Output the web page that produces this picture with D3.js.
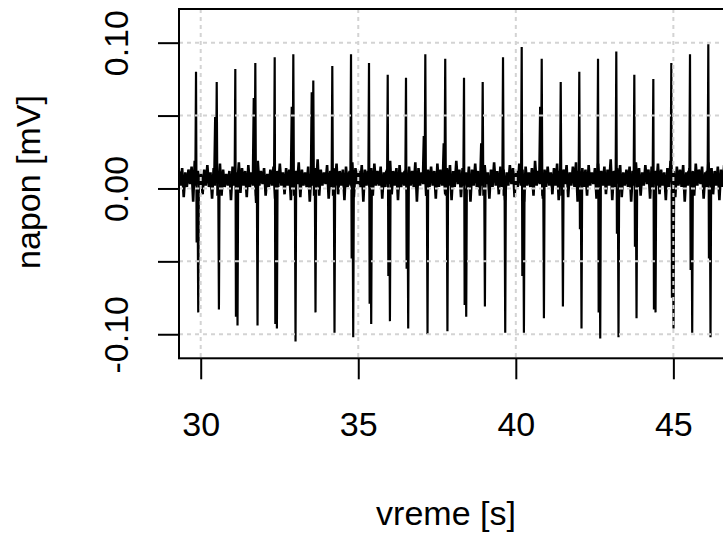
<!DOCTYPE html>
<html>
<head>
<meta charset="utf-8">
<script src="https://cdn.jsdelivr.net/npm/d3@7"></script>
<style>
  html, body { margin: 0; padding: 0; background: #ffffff; overflow: hidden; }
  svg { display: block; }
  text { font-family: "Liberation Sans", Arial, sans-serif; fill: #000; }
</style>
</head>
<body>
<script>
// ---------------- data ----------------
const xTicks = [30, 35, 40, 45];
const yTicks = [-0.10, -0.05, 0.00, 0.05, 0.10];
const yTickLabels = ["-0.10", "", "0.00", "", "0.10"];
const xLabel = "vreme [s]";
const yLabel = "napon [mV]";

// baseline noise envelope, sampled every 0.1 s starting at 29.311 s
const noiseStart = 29.311;
const noiseStep = 0.1;
const noiseHigh = [
  0.012,0.014,0.011,0.013,0.015,0.019,0.012,0.010,0.013,0.016,
  0.011,0.014,0.012,0.017,0.013,0.010,0.012,0.015,0.011,0.018,
  0.014,0.012,0.016,0.011,0.013,0.019,0.012,0.014,0.010,0.013,
  0.015,0.012,0.017,0.011,0.014,0.013,0.016,0.012,0.018,0.013,
  0.011,0.015,0.012,0.014,0.020,0.013,0.011,0.016,0.012,0.014,
  0.017,0.012,0.013,0.015,0.011,0.018,0.014,0.012,0.016,0.013,
  0.010,0.014,0.017,0.012,0.015,0.011,0.013,0.019,0.012,0.014,
  0.016,0.011,0.013,0.015,0.012,0.018,0.014,0.011,0.016,0.013,
  0.015,0.012,0.017,0.013,0.011,0.014,0.016,0.012,0.019,0.013,
  0.014,0.011,0.015,0.013,0.017,0.012,0.014,0.016,0.011,0.013,
  0.018,0.012,0.015,0.013,0.011,0.016,0.014,0.012,0.017,0.013,
  0.015,0.011,0.014,0.019,0.012,0.016,0.013,0.015,0.011,0.014,
  0.017,0.012,0.013,0.016,0.011,0.015,0.018,0.012,0.014,0.013,
  0.016,0.011,0.014,0.017,0.012,0.015,0.013,0.020,0.012,0.014,
  0.016,0.011,0.013,0.015,0.012,0.018,0.014,0.011,0.016,0.013,
  0.015,0.012,0.017,0.013,0.011,0.014,0.019,0.012,0.015,0.013,
  0.016,0.011,0.014,0.012,0.017,0.013,0.015,0.011,0.018,0.014,
  0.012,0.015,0.013,0.016,0.012
];
const noiseLow = [
  0.002,-0.006,0.001,0.003,-0.009,0.002,0.001,-0.004,0.002,0.001,
  -0.007,0.002,0.003,-0.005,0.001,0.002,-0.008,0.002,0.001,-0.003,
  0.002,-0.006,0.001,0.002,-0.010,0.002,0.003,-0.005,0.001,0.002,
  -0.007,0.001,0.002,-0.004,0.002,-0.008,0.001,0.003,-0.006,0.002,
  0.001,-0.009,0.002,0.001,-0.005,0.002,0.003,-0.007,0.001,0.002,
  -0.004,0.002,-0.008,0.001,0.002,-0.006,0.003,0.001,-0.009,0.002,
  0.001,-0.005,0.002,0.002,-0.007,0.001,0.003,-0.004,0.002,-0.008,
  0.001,0.002,-0.006,0.002,0.001,-0.009,0.002,0.003,-0.005,0.001,
  0.002,-0.007,0.001,0.002,-0.004,0.002,-0.008,0.001,0.003,-0.006,
  0.002,0.001,-0.009,0.002,0.001,-0.005,0.002,0.003,-0.007,0.001,
  0.002,-0.004,0.001,-0.008,0.002,0.003,-0.006,0.001,0.002,-0.009,
  0.002,0.001,-0.005,0.002,0.003,-0.007,0.001,0.002,-0.004,0.002,
  -0.008,0.001,0.003,-0.006,0.002,0.001,-0.009,0.002,0.001,-0.005,
  0.002,0.003,-0.007,0.001,0.002,-0.004,0.002,-0.008,0.001,0.003,
  -0.006,0.002,0.001,-0.009,0.002,0.001,-0.005,0.002,0.003,-0.007,
  0.001,0.002,-0.004,0.002,-0.008,0.001,0.003,-0.006,0.002,0.001,
  -0.009,0.002,0.001,-0.005,0.002,0.003,-0.007,0.001,0.002,-0.004,
  0.002,-0.008,0.001,0.003,-0.006
];

// spikes (QRS-like deflections)
const spikeTime = [29.851,30.508,31.098,31.733,32.348,32.939,33.573,34.176,34.770,35.341,
                   35.935,36.515,37.128,37.760,38.356,38.949,39.594,40.187,40.822,41.425,
                   42.015,42.609,43.189,43.761,44.364,44.935,45.528,46.109];
const spikeHigh = [0.080,0.073,0.082,0.086,0.090,0.092,0.074,0.084,0.092,0.086,
                   0.078,0.076,0.092,0.089,0.076,0.073,0.090,0.097,0.089,0.073,
                   0.080,0.089,0.094,0.078,0.075,0.086,0.092,0.099];
const spikeLow  = [-0.085,-0.083,-0.094,-0.094,-0.096,-0.105,-0.085,-0.099,-0.102,-0.093,
                   -0.091,-0.096,-0.100,-0.098,-0.088,-0.081,-0.099,-0.099,-0.089,-0.081,
                   -0.096,-0.103,-0.102,-0.089,-0.085,-0.096,-0.099,-0.102];
const spikeHighShoulder = [0.012,0.049,0.012,0.062,0.012,0.056,0.066,0.012,0.012,0.012,
                           0.012,0.012,0.036,0.031,0.012,0.031,0.012,0.012,0.056,0.012,
                           0.012,0.012,0.012,0.012,0.012,0.012,0.012,0.012];
const spikeLowShoulder  = [-0.037,-0.005,-0.088,-0.005,-0.093,-0.005,-0.005,-0.005,-0.048,-0.079,
                           -0.060,-0.055,-0.005,-0.005,-0.080,-0.005,-0.005,-0.060,-0.005,-0.005,
                           -0.028,-0.085,-0.031,-0.040,-0.083,-0.075,-0.056,-0.048];

// ---------------- layout ----------------
const W = 723, H = 535;
const box = { left: 179, top: 9, right: 786.8, bottom: 358.3 };

const svg = d3.select("body").append("svg").attr("width", W).attr("height", H);

const x = d3.scaleLinear().domain([29.311, 48.6]).range([box.left, box.right]);
const y = d3.scaleLinear().domain([-0.1165, 0.1231]).range([box.bottom, box.top]);

svg.append("defs").append("clipPath").attr("id", "plotclip")
  .append("rect")
  .attr("x", box.left).attr("y", box.top)
  .attr("width", box.right - box.left).attr("height", box.bottom - box.top);

const line = d3.line().x(d => x(d[0])).y(d => y(d[1]));
const plot = svg.append("g").attr("clip-path", "url(#plotclip)");

// noise band
const noisePts = [];
noiseHigh.forEach((v, i) => {
  const t = noiseStart + i * noiseStep;
  noisePts.push([t, v]);
  noisePts.push([t + noiseStep / 2, noiseLow[i]]);
});
plot.append("path").datum(noisePts)
  .attr("d", line).attr("fill", "none")
  .attr("stroke", "#000").attr("stroke-width", 2.6).attr("stroke-linejoin", "bevel");

// spikes
const spikes = spikeTime.map((t, i) => [
  [t - 0.08, 0.008],
  [t - 0.05, spikeHighShoulder[i]],
  [t - 0.02, 0.008],
  [t, spikeHigh[i]],
  [t + 0.02, spikeLowShoulder[i]],
  [t + 0.05, 0.000],
  [t + 0.07, spikeLow[i]],
  [t + 0.09, 0.005]
]);
plot.selectAll("path.spike").data(spikes).enter().append("path")
  .attr("class", "spike")
  .attr("d", line).attr("fill", "none")
  .attr("stroke", "#000").attr("stroke-width", 2.2).attr("stroke-linejoin", "bevel");

// grid (drawn over data, like R's grid())
const grid = svg.append("g").attr("clip-path", "url(#plotclip)")
  .attr("stroke", "#d3d3d3").attr("stroke-width", 2).attr("stroke-dasharray", "4,4");
grid.selectAll("line.vx").data(xTicks).enter().append("line")
  .attr("x1", d => x(d)).attr("x2", d => x(d))
  .attr("y1", box.top).attr("y2", box.bottom);
grid.selectAll("line.hy").data(yTicks).enter().append("line")
  .attr("x1", box.left).attr("x2", box.right)
  .attr("y1", d => y(d)).attr("y2", d => y(d));

// box
svg.append("rect")
  .attr("x", box.left).attr("y", box.top)
  .attr("width", box.right - box.left).attr("height", box.bottom - box.top)
  .attr("fill", "none").attr("stroke", "#000").attr("stroke-width", 2);

// x axis
const xAxis = svg.append("g")
  .attr("transform", `translate(0,${box.bottom})`)
  .style("color", "#000")
  .call(d3.axisBottom(x).tickValues(xTicks).tickSize(21).tickFormat(d3.format("d")));
xAxis.select(".domain").remove();
xAxis.selectAll(".tick line").attr("stroke-width", 2);
xAxis.selectAll(".tick text")
  .attr("y", 78).attr("dy", 0)
  .attr("font-size", 34).attr("fill", "#000")
  .style("font-family", "'Liberation Sans', Arial, sans-serif");

// y axis
const yAxis = svg.append("g")
  .attr("transform", `translate(${box.left},0)`)
  .style("color", "#000")
  .call(d3.axisLeft(y).tickValues(yTicks).tickSize(21)
    .tickFormat((d, i) => yTickLabels[i]));
yAxis.select(".domain").remove();
yAxis.selectAll(".tick line").attr("stroke-width", 2);
yAxis.selectAll(".tick text")
  .attr("x", 0).attr("dy", 0)
  .attr("text-anchor", "middle")
  .attr("transform", "translate(-51,0) rotate(-90)")
  .attr("font-size", 34).attr("fill", "#000")
  .style("font-family", "'Liberation Sans', Arial, sans-serif");

// axis titles
svg.append("text")
  .attr("x", 446).attr("y", 525)
  .attr("text-anchor", "middle").attr("font-size", 34)
  .text(xLabel);
svg.append("text")
  .attr("transform", "translate(40,182) rotate(-90)")
  .attr("text-anchor", "middle").attr("font-size", 34)
  .text(yLabel);
</script>
</body>
</html>
